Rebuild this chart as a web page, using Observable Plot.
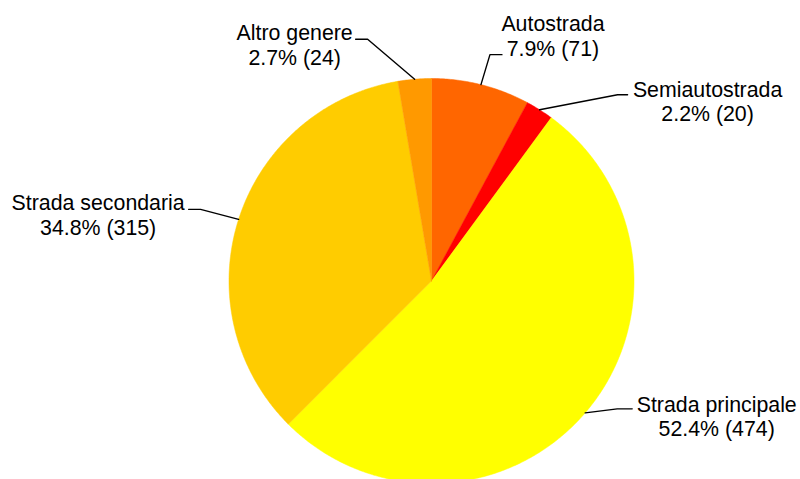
<!DOCTYPE html>
<html>
<head>
<meta charset="utf-8">
<script src="https://cdn.jsdelivr.net/npm/d3@7"></script>
<script src="https://cdn.jsdelivr.net/npm/@observablehq/plot@0.6"></script>
<style>
  html, body { margin: 0; padding: 0; background: #fff; }
  #chart svg { display: block; }
</style>
</head>
<body>
<div id="chart"></div>
<script>
// ---- Data ----
const categories = ["Autostrada", "Semiautostrada", "Strada principale", "Strada secondaria", "Altro genere"];
const counts = [71, 20, 474, 315, 24];
const sliceColors = ["#FF6600", "#FF0000", "#FFFF00", "#FFCC00", "#FF9900"];

// ---- Layout (pixels) ----
const W = 800, H = 479;
const CX = 431, CY = 280.5, R = 202.5;
// label layout: offsets in pixels from the slice's edge point (elbow, leader end, label center)
const labelElbow = [[9, -30], [78, -15], [32, -4], [-38, -10], [-47, -40]];
const labelEnd   = [[21, -30], [88, -15], [47, -4], [-50, -10], [-59, -40]];
const labelPos   = [[72, -49], [168, -8.5], [131.5, 3.5], [-140.5, -4.5], [-120, -34.5]];

const total = d3.sum(counts);
const rows = categories.map((name, i) => ({name, value: counts[i], i}));
const arcs = d3.pie().sort(null).value(d => d.value)(rows);

// slice polygons in unit-circle coordinates (y up)
const polys = arcs.flatMap(a => {
  const name = a.data.name;
  const pts = [{name, x: 0, y: 0}];
  const n = Math.max(4, Math.ceil((a.endAngle - a.startAngle) / (Math.PI / 360)));
  for (let k = 0; k <= n; k++) {
    const t = a.startAngle + (a.endAngle - a.startAngle) * k / n;
    pts.push({name, x: Math.sin(t), y: Math.cos(t)});
  }
  pts.push({name, x: 0, y: 0});
  return pts;
});

const toU = ([dx, dy]) => [dx / R, -dy / R];
const leaders = arcs.flatMap(a => {
  const i = a.data.i, name = a.data.name;
  const m = (a.startAngle + a.endAngle) / 2;
  const ex = Math.sin(m), ey = Math.cos(m);
  const [bx, by] = toU(labelElbow[i]);
  const [fx, fy] = toU(labelEnd[i]);
  return [
    {name, x: ex, y: ey},
    {name, x: ex + bx, y: ey + by},
    {name, x: ex + fx, y: ey + fy}
  ];
});
const labels = arcs.map(a => {
  const i = a.data.i;
  const m = (a.startAngle + a.endAngle) / 2;
  const [lx, ly] = toU(labelPos[i]);
  return {
    x: Math.sin(m) + lx,
    y: Math.cos(m) + ly,
    text: `${a.data.name}\n${(a.data.value / total * 100).toFixed(1)}% (${a.data.value})`
  };
});

const chart = Plot.plot({
  width: W,
  height: H,
  margin: 0,
  style: {background: "#fff", fontFamily: "'Liberation Sans', Arial, sans-serif"},
  x: {domain: [-CX / R, (W - CX) / R], range: [0, W], axis: null},
  y: {domain: [(CY - H) / R, CY / R], range: [H, 0], axis: null},
  color: {domain: categories, range: sliceColors, legend: false},
  marks: [
    Plot.line(polys, {x: "x", y: "y", z: "name", fill: "name", stroke: "name", strokeWidth: 0.5}),
    Plot.line(leaders, {x: "x", y: "y", z: "name", stroke: "#000", strokeWidth: 1.4}),
    Plot.text(labels, {
      x: "x", y: "y", text: "text",
      fontSize: 21.33, lineHeight: 1.15, textAnchor: "middle",
      fill: "#000", fontFamily: "'Liberation Sans', Arial, sans-serif"
    })
  ]
});
document.getElementById("chart").appendChild(chart);
</script>
</body>
</html>
